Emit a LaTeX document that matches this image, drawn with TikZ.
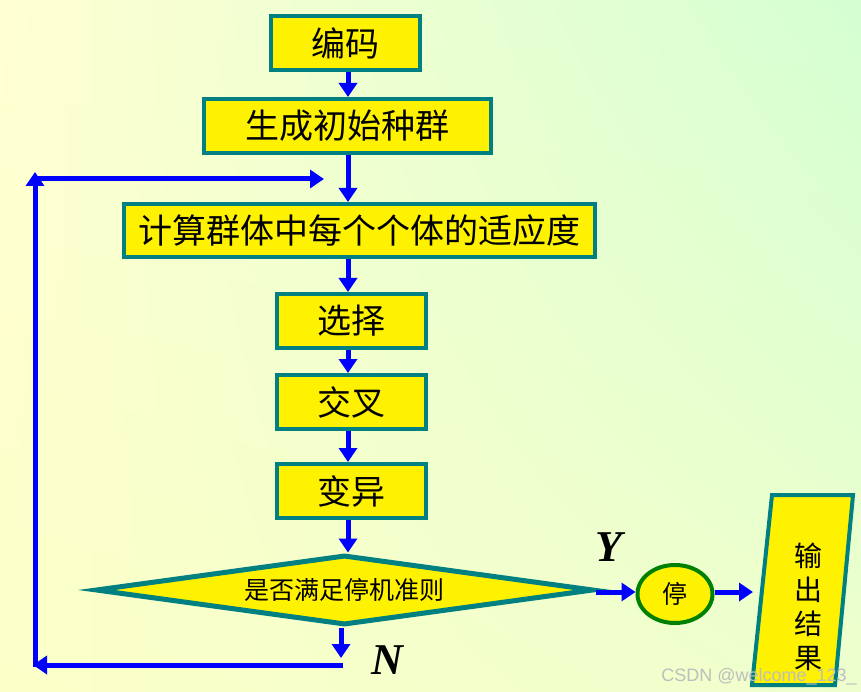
\documentclass[tikz,border=0pt]{standalone}
\usepackage{fontspec}
\newfontfamily\cjk{Noto Sans CJK SC}
\newfontfamily\lserif{Liberation Serif}
\newfontfamily\lsans{Liberation Sans}
\usetikzlibrary{arrows.meta,shapes.geometric,shadings}
\definecolor{boxline}{RGB}{0,128,128}
\definecolor{flowblue}{RGB}{0,0,255}
\definecolor{ovalline}{RGB}{0,128,0}
\definecolor{bgul}{RGB}{255,255,210}
\definecolor{bgur}{RGB}{212,255,210}
\definecolor{bgll}{RGB}{252,255,200}
\definecolor{bglr}{RGB}{238,255,205}
\definecolor{wmark}{RGB}{190,190,190}
\begin{document}
\begin{tikzpicture}[x=1pt,y=-1pt,
  stepbox/.style={draw=boxline, line width=4pt, fill=yellow, inner sep=0pt,
    minimum height=54pt, font=\cjk\fontsize{34pt}{40pt}\selectfont, text=black},
  flow/.style={draw=flowblue, line width=5pt, -{Triangle[width=18pt,length=14pt]}},
  ylab/.style={font=\lserif\bfseries\itshape\fontsize{44pt}{48pt}\selectfont, text=black}
]
\shade[upper left=bgul, upper right=bgur, lower left=bgll, lower right=bglr] (0,0) rectangle (861,692);
\useasboundingbox (0,0) rectangle (861,692);

% boxes
\node[stepbox, minimum width=149pt] (enc) at (345.5,43) {编码};
\node[stepbox, minimum width=287pt] (init) at (347.5,126) {生成初始种群};
\node[stepbox, minimum width=471pt, minimum height=53pt] (fit) at (359.5,230.5) {计算群体中每个个体的适应度};
\node[stepbox, minimum width=149pt] (sel) at (351.5,321) {选择};
\node[stepbox, minimum width=149pt] (cross) at (351.5,402) {交叉};
\node[stepbox, minimum width=149pt] (mut) at (351.5,491) {变异};

% decision
\node[diamond, aspect=7, draw=boxline, line width=5pt, fill=yellow, inner sep=0pt,
  minimum width=498pt, minimum height=70pt,
  font=\cjk\fontsize{25pt}{30pt}\selectfont] (dia) at (344.5,590) {是否满足停机准则};

% stop
\node[ellipse, draw=ovalline, line width=4pt, fill=yellow, inner sep=0pt,
  minimum width=75pt, minimum height=58pt,
  font=\cjk\fontsize{25pt}{30pt}\selectfont] (stop) at (675,594) {停};

% output parallelogram
\coordinate (p1) at (772,495);
\coordinate (p2) at (853,495);
\coordinate (p3) at (835,685);
\coordinate (p4) at (752,685);
\draw[draw=boxline, line width=4pt, fill=yellow] (p1) -- (p2) -- (p3) -- (p4) -- cycle;
\node[align=center, inner sep=0pt, font=\cjk\fontsize{28pt}{34pt}\selectfont] (out) at (808,607) {输\\出\\结\\果};

% labels
\node[ylab] (ylabel) at (609,547) {Y};
\node[ylab] (nlabel) at (387,660) {N};

% connectors
\coordinate (ax) at (348,0);
\draw[flow] (enc.south -| ax) -- (init.north -| ax);
\draw[flow] (init.south -| ax) -- (fit.north -| ax);
\draw[flow] (fit.south -| ax) -- (sel.north -| ax);
\draw[flow] (sel.south -| ax) -- (cross.north -| ax);
\draw[flow] (cross.south -| ax) -- (mut.north -| ax);
\draw[flow] (mut.south -| ax) -- (dia.north -| ax);

\coordinate (yarr) at (0,592);
\draw[flow] (dia.east |- yarr) -- (stop.west |- yarr);
\coordinate (outin) at (753,592);
\draw[flow] (stop.east |- yarr) -- (outin);

% loop back
\coordinate (nx) at (341,0);
\coordinate (ndown) at (341,658);
\coordinate (bstart) at (343,665);
\coordinate (bend) at (33,665);
\coordinate (lstart) at (35,667);
\coordinate (lend) at (35,172);
\coordinate (tstart) at (33,179);
\coordinate (tend) at (324,179);
\draw[flow] (dia.south -| nx) -- (ndown);
\draw[flow] (bstart) -- (bend);
\draw[flow] (lstart) -- (lend);
\draw[flow] (tstart) -- (tend);

% watermark
\node[anchor=east, inner sep=0pt, text=wmark, font=\lsans\fontsize{18pt}{20pt}\selectfont] (wm) at (857,677) {CSDN @welcome\_123\_};
\end{tikzpicture}
\end{document}
